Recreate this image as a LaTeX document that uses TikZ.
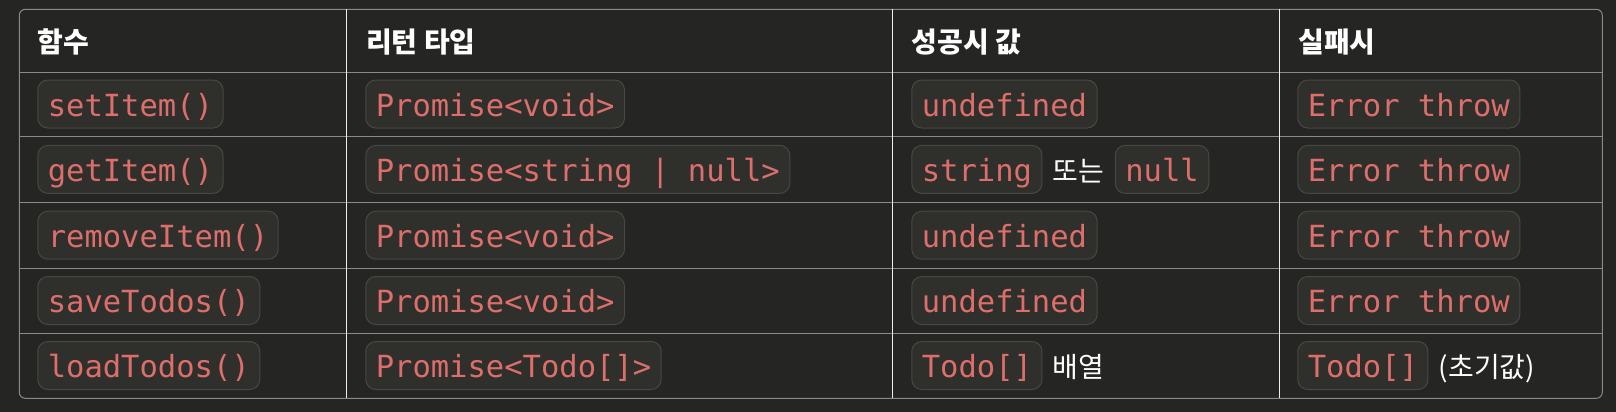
\documentclass[tikz,border=0pt]{standalone}
\usepackage{fontspec}
\usepackage{xcolor}
\usetikzlibrary{positioning}
\newfontfamily\kr{Noto Sans CJK KR}
\newfontfamily\mono{DejaVu Sans Mono}
\definecolor{bgdark}{HTML}{252523}
\definecolor{chipfill}{HTML}{2F2F2C}
\definecolor{chipline}{HTML}{474744}
\definecolor{codered}{HTML}{DC6E6B}
\definecolor{gridgray}{HTML}{8A8A88}
\definecolor{colwhite}{HTML}{EEEEEE}

\begin{document}
\begin{tikzpicture}[x=0.5pt, y=-0.5pt, node distance=5pt]
    % styles
    \tikzstyle{head} = [anchor=base west, inner sep=0pt, text=white, font=\kr\bfseries\fontsize{14}{17}\selectfont]
    \tikzstyle{chip} = [anchor=base west, draw=chipline, fill=chipfill, line width=0.5pt, rounded corners=5pt, text=codered, inner xsep=5pt, inner ysep=0pt, text height=18pt, text depth=6pt, font=\mono\fontsize{15.25}{18}\selectfont]
    \tikzstyle{word} = [anchor=base west, inner sep=0pt, text=white, font=\kr\fontsize{14}{17}\selectfont]
    \tikzstyle{rowline} = [draw=gridgray, line width=0.5pt]
    \tikzstyle{colline} = [draw=colwhite, line width=0.5pt]

    % background and frame
    \fill[bgdark] (0,0) rectangle (1616,412);
    \draw[rowline, rounded corners=3pt] (19.3,9.3) rectangle (1602.3,398.3);

    % grid lines
    \foreach \y in {72,136.7,202.7,268.3,333.3}
        \draw[rowline] (19.3,\y) -- (1602.3,\y);
    \foreach \x in {346.7,892.3,1279.3}
        \draw[colline] (\x,9.3) -- (\x,398.3);

    % header
    \node[head] (hfunc)  at (37.3,52.5)  {함수};
    \node[head] (htype)  at (365.7,52.5) {리턴 타입};
    \node[head] (hok)    at (911.3,52.5) {성공시 값};
    \node[head] (hfail)  at (1298,52.5)  {실패시};

    % function column
    \node[chip] (fset)    at (37.3,116)   {setItem()};
    \node[chip] (fget)    at (37.3,181.4) {getItem()};
    \node[chip] (fremove) at (37.3,247.2) {removeItem()};
    \node[chip] (fsave)   at (37.3,312.5) {saveTodos()};
    \node[chip] (fload)   at (37.3,377.5) {loadTodos()};

    % return type column
    \node[chip] (tset)    at (365.3,116)   {Promise<void>};
    \node[chip] (tget)    at (365.3,181.4) {Promise<string | null>};
    \node[chip] (tremove) at (365.3,247.2) {Promise<void>};
    \node[chip] (tsave)   at (365.3,312.5) {Promise<void>};
    \node[chip] (tload)   at (365.3,377.5) {Promise<Todo[]>};

    % success column
    \node[chip] (oset)    at (911.3,116)   {undefined};
    \node[chip] (oget)    at (911.3,181.4) {string};
    \node[word, base right=5pt of oget] (oor) {또는};
    \node[chip, base right=5pt of oor] (onull) {null};
    \node[chip] (oremove) at (911.3,247.2) {undefined};
    \node[chip] (osave)   at (911.3,312.5) {undefined};
    \node[chip] (oload)   at (911.3,377.5) {Todo[]};
    \node[word, base right=5pt of oload] (oarr) {배열};

    % failure column
    \node[chip] (xset)    at (1297.3,116)   {Error throw};
    \node[chip] (xget)    at (1297.3,181.4) {Error throw};
    \node[chip] (xremove) at (1297.3,247.2) {Error throw};
    \node[chip] (xsave)   at (1297.3,312.5) {Error throw};
    \node[chip] (xload)   at (1297.3,377.5) {Todo[]};
    \node[word, base right=5pt of xload] (xinit) {(초기값)};
\end{tikzpicture}
\end{document}
